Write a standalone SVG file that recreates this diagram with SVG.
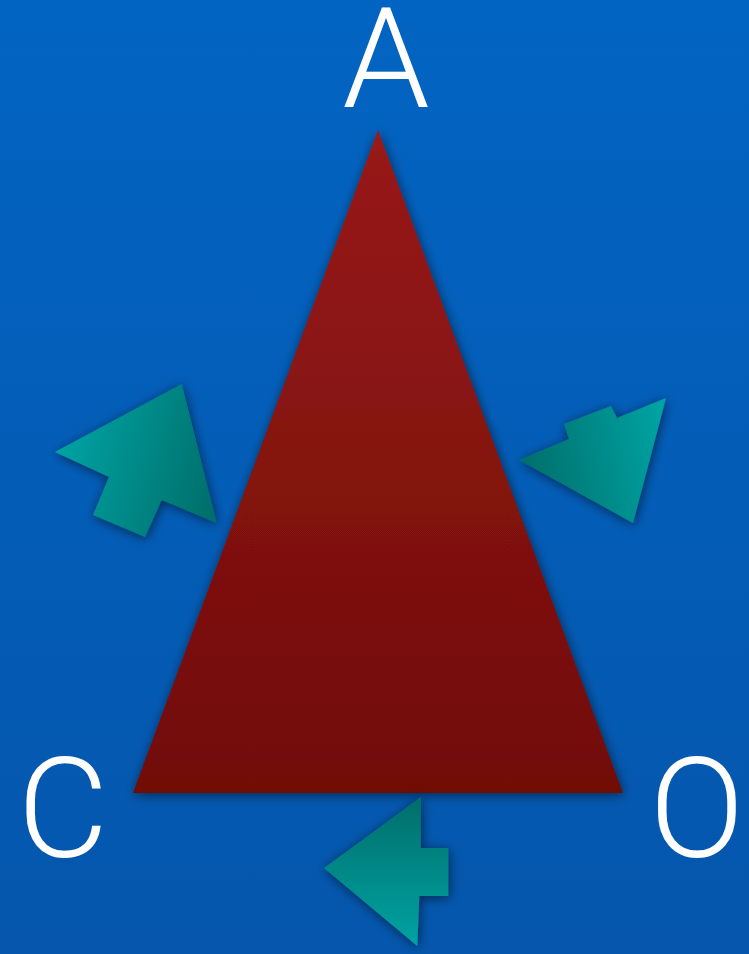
<svg xmlns="http://www.w3.org/2000/svg" width="749" height="954" viewBox="0 0 749 954">
<defs>
<linearGradient id="bg" x1="0" y1="0" x2="0" y2="1"><stop offset="0" stop-color="#0264c2"/><stop offset="1" stop-color="#0556ac"/></linearGradient>
<linearGradient id="tri" x1="0" y1="0" x2="0" y2="1"><stop offset="0" stop-color="#981a1a"/><stop offset="1" stop-color="#710c06"/></linearGradient>
<linearGradient id="a1" gradientUnits="userSpaceOnUse" x1="55" y1="452" x2="217" y2="500"><stop offset="0" stop-color="#00a3a3"/><stop offset="1" stop-color="#006e6a"/></linearGradient>
<linearGradient id="a2" gradientUnits="userSpaceOnUse" x1="519" y1="460" x2="666" y2="430"><stop offset="0" stop-color="#006e6a"/><stop offset="1" stop-color="#00a3a3"/></linearGradient>
<linearGradient id="a3" gradientUnits="userSpaceOnUse" x1="0" y1="797" x2="0" y2="946"><stop offset="0" stop-color="#006e6a"/><stop offset="1" stop-color="#00a3a3"/></linearGradient>
<filter id="sh" x="-20%" y="-20%" width="140%" height="140%"><feGaussianBlur in="SourceAlpha" stdDeviation="6"/><feOffset dx="1" dy="2"/><feComponentTransfer><feFuncA type="linear" slope="0.55"/></feComponentTransfer><feMerge><feMergeNode/><feMergeNode in="SourceGraphic"/></feMerge></filter>
</defs>
<style>
.lbl{font-family:"Roboto","Liberation Sans",sans-serif;font-weight:300;font-size:140px;fill:#ffffff;text-anchor:middle}
</style>
<rect width="749" height="954" fill="url(#bg)"/>
<g id="triangle"><polygon points="378,130 623,793 133,793" fill="url(#tri)" filter="url(#sh)"/></g>
<g id="connectors">
<polygon id="arrow1" points="181.7,384 216.7,523 161.7,500 145,537 93,515 109,477 55,452" fill="url(#a1)" filter="url(#sh)"/>
<polygon id="arrow2" points="666,398 633,523 519,460 569,439 564,424 611,406 617,418" fill="url(#a2)" filter="url(#sh)"/>
<polygon id="arrow3" points="421,797 420.7,848 448.3,848 448.3,896 419.3,896 417.3,946 324,868" fill="url(#a3)" filter="url(#sh)"/>
</g>
<g id="label-A"><text class="lbl" x="386" y="107">A</text></g>
<g id="label-C"><text class="lbl" x="63" y="857">C</text></g>
<g id="label-O"><text class="lbl" x="697" y="857">O</text></g>
</svg>
